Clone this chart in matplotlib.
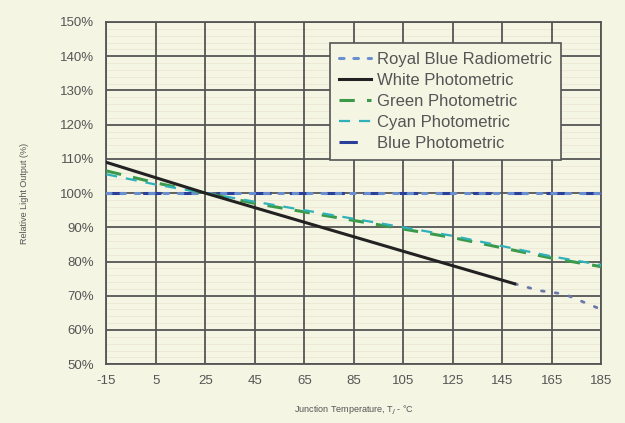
import matplotlib
matplotlib.use("Agg")
import matplotlib.pyplot as plt
from matplotlib.ticker import MultipleLocator, FuncFormatter

plt.rcParams['font.family'] = ['Liberation Sans', 'DejaVu Sans']
plt.rcParams['axes.unicode_minus'] = False

# Data
temps = [-15, 5, 25, 45, 65, 85, 105, 125, 145, 165, 185]
royal_blue = [100, 100, 100, 100, 100, 100, 100, 100, 100, 100, 100]
blue = [100, 100, 100, 100, 100, 100, 100, 100, 100, 100, 100]
green = [106.5, 103, 100, 97, 94.5, 92, 89.5, 87, 84, 81, 78.5]
cyan = [105.5, 102.5, 100, 97.5, 95, 92.5, 90, 87.5, 84.5, 81.5, 79]

white_temps = [-15, 25, 65, 105, 150]
white = [109, 100, 91.5, 83, 73.5]
white_ext_temps = [150, 160, 170, 180, 185]
white_ext = [73.5, 71.5, 70.5, 67.5, 66]

x_ticks = [-15, 5, 25, 45, 65, 85, 105, 125, 145, 165, 185]

bg = '#f5f5e4'
txt = '#555555'
fig = plt.figure(figsize=(6.25, 4.23), dpi=100, facecolor=bg)
ax = fig.add_axes([0.170, 0.139, 0.792, 0.809], facecolor=bg)

ax.plot(temps, blue, color='#2a3f9a', lw=2.2, dashes=(6, 6), label='Blue Photometric', zorder=3)
ax.plot(temps, royal_blue, color='#6a8fd0', lw=2.2, dashes=(1.5, 3.2),
        dash_capstyle='round', label='Royal Blue Radiometric', zorder=3)
ax.plot(temps, green, color='#3a9a4a', lw=2.2, dashes=(5, 4), label='Green Photometric', zorder=3)
ax.plot(temps, cyan, color='#30b0b8', lw=1.6, dashes=(5, 4), label='Cyan Photometric', zorder=3)
ax.plot(white_temps, white, color='#222222', lw=2.2, label='White Photometric', zorder=4)
ax.plot(white_ext_temps, white_ext, color='#6a78a8', lw=2, dashes=(1, 4),
        dash_capstyle='round', zorder=3)

ax.set_xlim(-15, 185)
ax.set_ylim(50, 150)
ax.set_xticks(x_ticks)
ax.yaxis.set_major_locator(MultipleLocator(10))
ax.yaxis.set_minor_locator(MultipleLocator(2))
ax.yaxis.set_major_formatter(FuncFormatter(lambda v, p: f"{v:.0f}%"))

ax.grid(which='major', color='#555555', lw=1.3)
ax.grid(which='minor', axis='y', color='#ebe5d2', lw=0.5)
ax.set_axisbelow(True)
# vertical grid drawn over the faint minor horizontal lines
ax.xaxis.set_zorder(0.6)
for s in ax.spines.values():
    s.set_color('#555555')
    s.set_linewidth(1.3)
ax.tick_params(which='both', length=0, colors=txt, labelsize=9.5)
ax.tick_params(axis='y', pad=9)
ax.tick_params(axis='x', pad=8)

ax.set_xlabel('Junction Temperature, T$_J$ - °C', fontsize=6.5, color=txt, labelpad=12)
ax.set_ylabel('Relative Light Output (%)', fontsize=6.5, color=txt, labelpad=22)

handles, labels = ax.get_legend_handles_labels()
order = ['Royal Blue Radiometric', 'White Photometric', 'Green Photometric',
         'Cyan Photometric', 'Blue Photometric']
hmap = dict(zip(labels, handles))
leg = ax.legend([hmap[k] for k in order], order, loc='upper left',
                bbox_to_anchor=(0.4525, 0.9386), fontsize=12, frameon=True,
                fancybox=False, edgecolor='#555555', facecolor=bg, framealpha=1,
                handlelength=1.9, handletextpad=0.35, labelspacing=0.36,
                borderpad=0.55, borderaxespad=0, labelcolor=txt)
leg.get_frame().set_linewidth(1.2)

fig.savefig('out.png', dpi=100, facecolor=bg)
